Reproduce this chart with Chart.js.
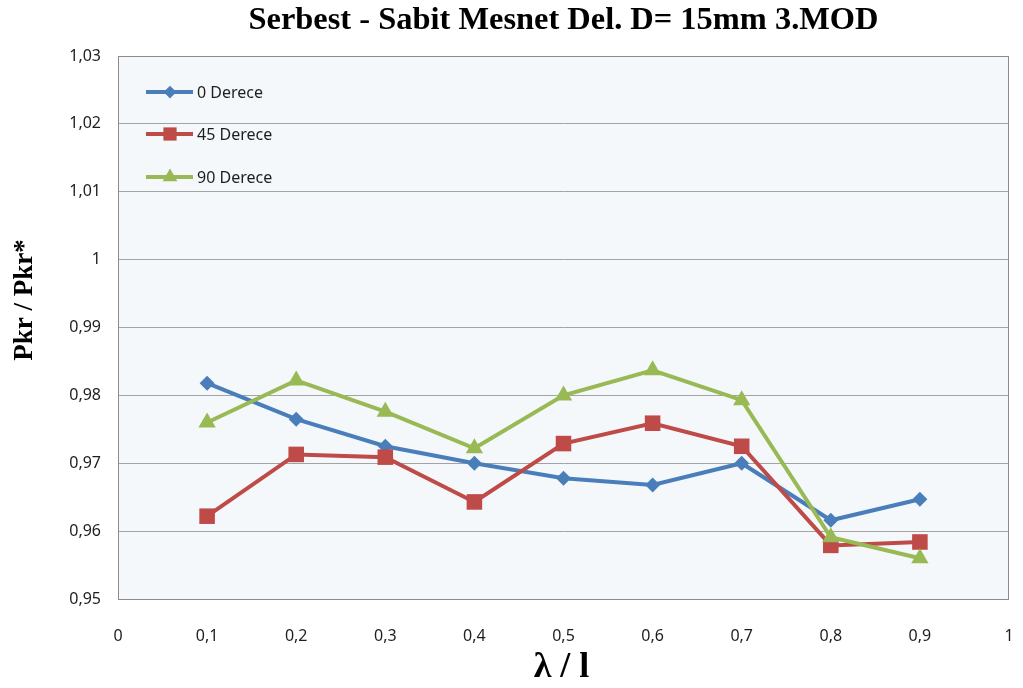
<!DOCTYPE html>
<html>
<head>
<meta charset="utf-8">
<script src="https://cdn.jsdelivr.net/npm/chart.js@4/dist/chart.umd.min.js"></script>
<style>
  html, body { margin: 0; padding: 0; background: #ffffff; }
  #wrap { width: 1023px; height: 688px; }
</style>
</head>
<body>
<div id="wrap"><canvas id="chart" width="1023" height="688"></canvas></div>
<script>
  // λ / l oranları
  const xValues = [0.1, 0.2, 0.3, 0.4, 0.5, 0.6, 0.7, 0.8, 0.9];
  const seriesNames = ["0 Derece", "45 Derece", "90 Derece"];
  const deg0 = [0.9818, 0.9765, 0.9725, 0.9700, 0.9678, 0.9668, 0.9700, 0.9616, 0.9647];
  const deg45 = [0.9622, 0.9713, 0.9709, 0.9643, 0.9729, 0.9759, 0.9725, 0.9579, 0.9584];
  const deg90 = [0.9760, 0.9822, 0.9776, 0.9722, 0.9800, 0.9837, 0.9793, 0.9591, 0.9560];
  const yMin = 0.95, yMax = 1.03, yStep = 0.01;
  const xMin = 0, xMax = 1, xStep = 0.1;

  const chartTitle = "Serbest - Sabit Mesnet Del. D= 15mm 3.MOD";
  const xTitle = "λ / l";
  const yTitle = "Pkr / Pkr*";

  const serif = "'Liberation Serif', 'Times New Roman', serif";
  const fmt = (v) => String(Number(v.toFixed(2))).replace(".", ",");
  const toPoints = (arr) => arr.map((y, i) => ({ x: xValues[i], y }));

  const styles = [
    { color: "#4A7EBB", point: "rectRot", radius: 7.5 },
    { color: "#BE4B48", point: "rect", radius: 11 },
    { color: "#98B954", point: "triangle", radius: 10 },
  ];

  // arka plan ve çerçeve
  const plotBackground = {
    id: "plotBackground",
    beforeDraw(chart) {
      const { ctx, chartArea: a } = chart;
      ctx.save();
      ctx.fillStyle = "#F4F8FB";
      ctx.fillRect(a.left, a.top, a.right - a.left, a.bottom - a.top);
      ctx.restore();
    },
    beforeDatasetsDraw(chart) {
      const { ctx, chartArea: a } = chart;
      ctx.save();
      ctx.strokeStyle = "#8C8C8C";
      ctx.lineWidth = 1;
      ctx.strokeRect(a.left + 0.5, a.top + 0.5, a.right - a.left - 1, a.bottom - a.top);
      ctx.restore();
    },
  };

  // başlıklar
  const titles = {
    id: "titles",
    afterDraw(chart) {
      const { ctx, chartArea: a } = chart;
      const cx = (a.left + a.right) / 2;
      ctx.save();
      ctx.fillStyle = "#000000";
      ctx.textAlign = "center";
      ctx.textBaseline = "middle";

      ctx.font = `bold 31px ${serif}`;
      const w = ctx.measureText(chartTitle).width;
      ctx.save();
      ctx.translate(cx, 21);
      ctx.scale(630 / w, 1);
      ctx.fillText(chartTitle, 0, 0);
      ctx.restore();

      ctx.font = `bold 36px ${serif}`;
      ctx.fillText(xTitle, cx - 2, 668);

      ctx.font = `bold 27px ${serif}`;
      ctx.translate(25, 300);
      ctx.rotate(-Math.PI / 2);
      ctx.fillText(yTitle, 0, 0);
      ctx.restore();
    },
  };

  // grafik içi lejant
  const innerLegend = {
    id: "innerLegend",
    afterDatasetsDraw(chart) {
      const { ctx } = chart;
      const rows = [92, 134, 177];
      ctx.save();
      chart.data.datasets.forEach((ds, i) => {
        const y = rows[i];
        ctx.strokeStyle = ds.borderColor;
        ctx.lineWidth = 4;
        ctx.beginPath();
        ctx.moveTo(146, y);
        ctx.lineTo(193, y);
        ctx.stroke();
        ctx.fillStyle = ds.pointBackgroundColor;
        ctx.strokeStyle = ds.pointBackgroundColor;
        Chart.helpers.drawPoint(ctx, {
          pointStyle: ds.pointStyle,
          radius: ds.pointRadius * 0.85,
          borderWidth: 0,
        }, 170, y);
        ctx.fillStyle = "#1E1E1E";
        ctx.font = "16px 'Noto Sans'";
        ctx.textBaseline = "middle";
        ctx.textAlign = "left";
        ctx.fillText(ds.label, 197, y + 1);
      });
      ctx.restore();
    },
  };

  const datasets = [deg0, deg45, deg90].map((vals, i) => ({
    label: seriesNames[i],
    data: toPoints(vals),
    borderColor: styles[i].color,
    backgroundColor: styles[i].color,
    pointBackgroundColor: styles[i].color,
    pointBorderColor: styles[i].color,
    pointBorderWidth: 0,
    pointStyle: styles[i].point,
    pointRadius: styles[i].radius,
    borderWidth: 4,
    tension: 0,
    order: 3 - i,
  }));

  new Chart(document.getElementById("chart"), {
    type: "line",
    data: { datasets },
    plugins: [plotBackground, innerLegend, titles],
    options: {
      responsive: false,
      animation: false,
      layout: { padding: { left: 0, right: 14, top: 56, bottom: 0 } },
      plugins: {
        legend: { display: false },
        tooltip: { enabled: false },
        title: { display: false },
      },
      scales: {
        x: {
          type: "linear",
          min: xMin,
          max: xMax,
          grid: { display: false },
          border: { display: false },
          ticks: {
            stepSize: xStep,
            padding: 20,
            color: "#1E1E1E",
            font: { family: "'Noto Sans'", size: 16 },
            maxRotation: 0,
            callback: (v) => fmt(v),
          },
          afterFit: (scale) => {
            scale.height = 89;
            scale.paddingLeft = 0;
            scale.paddingRight = 0;
          },
        },
        y: {
          min: yMin,
          max: yMax,
          grid: { color: "#A3A3A3", lineWidth: 1, drawTicks: false },
          border: { display: false },
          ticks: {
            stepSize: yStep,
            padding: 17,
            color: "#1E1E1E",
            font: { family: "'Noto Sans'", size: 16 },
            callback: (v) => fmt(v),
          },
          afterFit: (scale) => {
            scale.width = 118;
            scale.paddingTop = 0;
            scale.paddingBottom = 0;
          },
        },
      },
    },
  });
</script>
</body>
</html>
